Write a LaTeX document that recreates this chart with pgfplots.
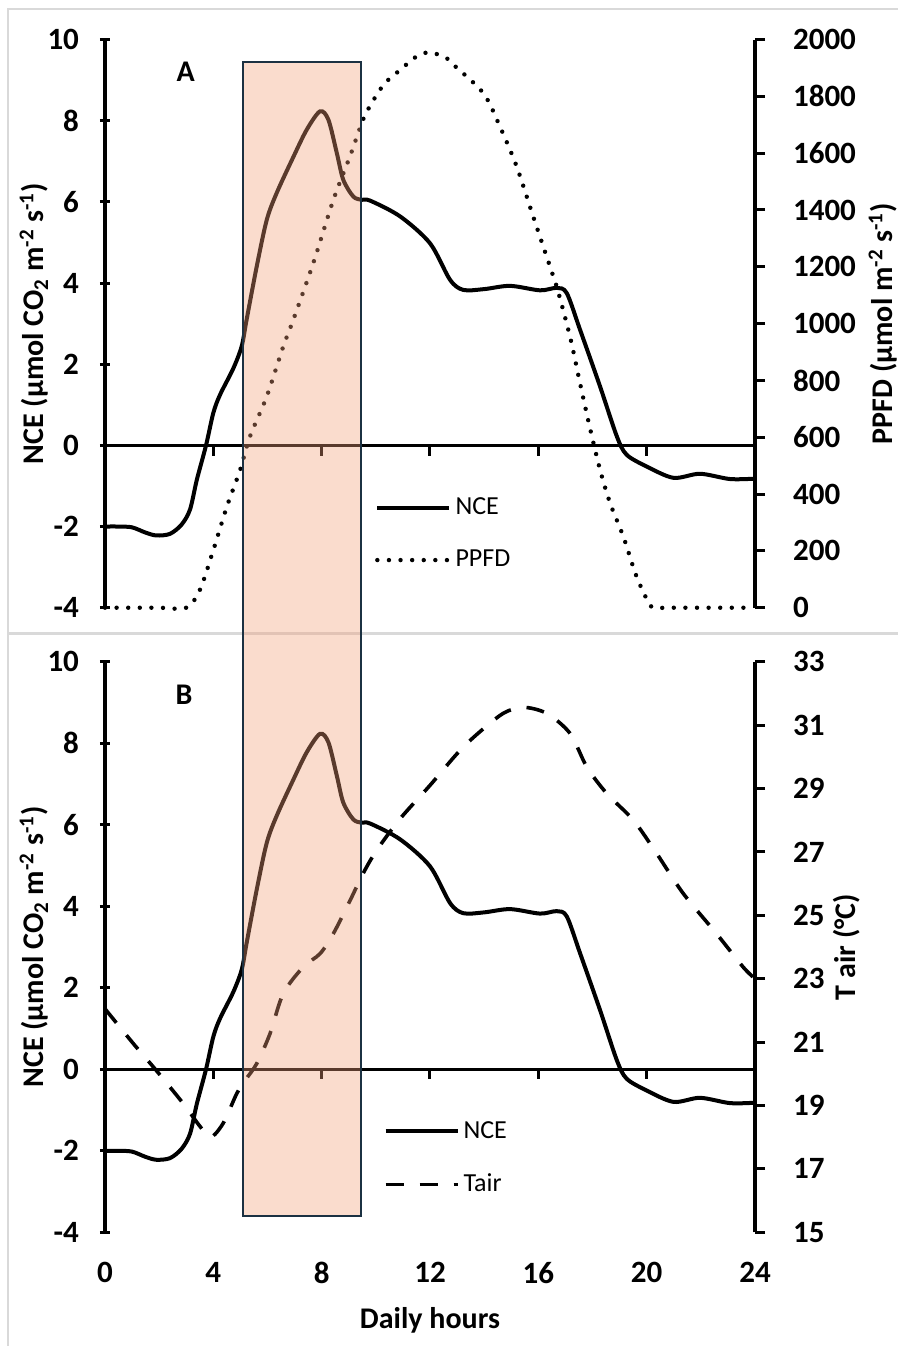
\documentclass[border=0pt]{standalone}
\usepackage{pgfplots}
\pgfplotsset{compat=1.18}
\usepackage{pgfplotstable}
\usepackage{fontspec}
\setmainfont{Carlito}
\definecolor{boxfill}{RGB}{242,160,120}
\definecolor{boxedge}{RGB}{27,49,66}
\definecolor{framegray}{RGB}{217,217,217}

\pgfplotstableread{
h v
0 -2.0
0.5 -2.0
1.0 -2.02
1.5 -2.15
1.9 -2.22
2.4 -2.18
2.83 -1.95
3.14 -1.58
3.39 -0.85
3.73 0.0
4.0 0.8
4.25 1.25
4.74 1.9
5.05 2.45
5.23 3.1
5.6 4.4
5.97 5.55
6.34 6.22
6.95 7.1
7.45 7.78
7.94 8.23
8.25 8.02
8.56 7.2
8.8 6.54
9.17 6.13
9.48 6.05
9.79 6.03
10.9 5.64
12.0 4.98
12.74 4.08
13.23 3.83
14.0 3.85
14.96 3.93
16.06 3.82
16.68 3.88
17.05 3.75
17.54 2.85
18.28 1.45
18.9 0.22
19.26 -0.23
20.0 -0.52
20.99 -0.8
21.97 -0.7
23.08 -0.83
24 -0.82
}\nce

\pgfplotstableread{
h v
0 0
1 0
2 0
3.0 0
3.5 62
4.0 203
4.5 356
4.99 485
5.35 602
5.97 743
6.58 919
6.95 1013
7.69 1213
8.43 1435
9.05 1590
9.42 1690
9.66 1745
10.28 1840
10.9 1893
11.5 1940
12.0 1955
12.62 1934
12.87 1911
13.97 1811
14.58 1694
15.2 1553
15.81 1377
16.43 1201
16.68 1130
17.17 954
17.54 790
17.9 635
18.28 485
18.65 368
19.14 250
19.63 109
20.12 10
20.37 0
21 0
22 0
23 0
24 0
}\ppfd

\pgfplotstableread{
h v
0 22.05
1.05 20.95
1.9 20.1
2.9 19.05
3.5 18.35
3.9 18.0
4.37 18.45
4.86 19.37
5.17 19.79
5.6 20.32
6.09 21.26
6.58 22.53
7.32 23.37
7.94 23.79
8.43 24.42
9.05 25.47
9.53 26.32
10.03 27.05
10.9 28.05
12.0 29.1
13.0 30.1
13.72 30.7
14.7 31.37
15.45 31.56
16.31 31.37
17.17 30.74
17.79 29.68
18.53 28.84
19.51 28.0
20.37 26.95
21.35 25.69
22.58 24.42
23.56 23.37
24 23.0
}\tair

\newcommand{\lblfont}{\bfseries\fontsize{15}{18}\selectfont}
\newcommand{\tickfont}{\bfseries\fontsize{15.5}{18}\selectfont}

\pgfplotsset{
  common/.style={
    scale only axis, width=325pt, enlargelimits=false, clip=false,
    xmin=0, xmax=24, xtick={0,4,...,24},
    tick align=outside, major tick length=5pt,
    axis line style={line width=1.6pt},
    every tick/.style={line width=1.5pt, black},
    /pgf/number format/assume math mode=true,
    /pgf/number format/1000 sep={},
    tick label style={font=\tickfont},
    legend style={draw=none, fill=none, inner sep=0pt,
      font=\fontsize{13}{15}\selectfont, row sep=12.3pt,
      nodes={inner sep=2pt}},
    legend cell align=left,
  },
  leftaxis/.style={common,
    axis x line*=bottom, axis y line=left,
    x axis line style={draw=none}, y axis line style={-},
    every outer y axis line/.append style={-},
    xtick align=inside, xtick style={draw=none},
    ymin=-4, ymax=10, ytick={-4,-2,...,10},
    yticklabel style={xshift=-7pt},
    ylabel={NCE (µmol CO\textsubscript{2} m\textsuperscript{-2} s\textsuperscript{-1})},
    every axis y label/.style={at={(axis description cs:-0.109,0.5)}, rotate=90, anchor=center, font=\lblfont},
  },
  rightaxis/.style={common,
    axis x line=none, axis y line*=right,
    x axis line style={-}, y axis line style={-},
    every outer y axis line/.append style={-},
    yticklabel style={xshift=10.5pt},
  },
  ncestyle/.style={black, line width=2pt},
  ppfdstyle/.style={black, line width=2.2pt, line cap=round, dash pattern=on 0pt off 5.8pt},
  tairstyle/.style={black, line width=1.8pt, dash pattern=on 9pt off 8pt},
  legend image code/.code={\draw[#1] (0pt,0pt) -- (36pt,0pt);},
}

\newcommand{\zeroline}{%
  \draw[black, line width=1.6pt] (axis cs:0,0) -- (axis cs:24,0);
  \pgfplotsinvokeforeach{4,8,12,16,20}{\draw[black, line width=1.5pt] (axis cs:##1,0) -- (axis cs:##1,-0.25);}%
}

\begin{document}
\begin{tikzpicture}
\path[use as bounding box] (0,0) rectangle (449pt,-673pt);
% frame
\draw[framegray, line width=1.2pt] (4pt,-673pt) -- (4pt,-4.5pt) -- (449pt,-4.5pt);
\draw[framegray, line width=1.2pt] (4pt,-316.7pt) -- (449pt,-316.7pt);

% ---------------- Panel A ----------------
\begin{axis}[leftaxis, at={(52.5pt,-303.85pt)}, anchor=south west, height=284.1pt,
  xticklabels={}]
  \zeroline
  \addplot[ncestyle, smooth] table[x=h, y=v] {\nce};
  \coordinate (boxTL) at (axis cs:5.11,9.45);
\end{axis}
\begin{axis}[rightaxis, at={(52.5pt,-303.85pt)}, anchor=south west, height=284.1pt,
  ymin=0, ymax=2000, ytick={0,200,...,2000},
  ylabel={PPFD (µmol m\textsuperscript{-2} s\textsuperscript{-1})},
  every axis y label/.style={at={(axis description cs:1.197,0.5)}, rotate=90, anchor=center, font=\lblfont},
  legend style={at={(0.415,0.13)}, anchor=west}]
  \addlegendimage{ncestyle}\addlegendentry{NCE}
  \addplot[ppfdstyle, smooth] table[x=h, y=v] {\ppfd};
  \addlegendentry{PPFD}
\end{axis}

% ---------------- Panel B ----------------
\begin{axis}[leftaxis, at={(52.5pt,-616.15pt)}, anchor=south west, height=285.3pt,
  xticklabel style={yshift=-11.5pt},
  xlabel={Daily hours},
  every axis x label/.style={at={(axis description cs:0.5,-0.155)}, anchor=center, font=\lblfont}]
  \zeroline
  \addplot[ncestyle, smooth] table[x=h, y=v] {\nce};
  \coordinate (boxBR) at (axis cs:9.44,-3.59);
\end{axis}
\begin{axis}[rightaxis, at={(52.5pt,-616.15pt)}, anchor=south west, height=285.3pt,
  ymin=15, ymax=33, ytick={15,17,...,33},
  ylabel={T air (°C)},
  every axis y label/.style={at={(axis description cs:1.1415,0.5)}, rotate=90, anchor=center, font=\lblfont},
  legend style={at={(0.428,0.13)}, anchor=west}]
  \addlegendimage{ncestyle}\addlegendentry{NCE}
  \addplot[tairstyle, smooth] table[x=h, y=v] {\tair};
  \addlegendentry{Tair}
\end{axis}

% highlight box
\draw[boxedge, line width=1pt, fill=boxfill, fill opacity=0.37] (boxTL) rectangle (boxBR);

\node[font=\bfseries\fontsize{15}{18}\selectfont] at (92.85pt,-35.85pt) {A};
\node[font=\bfseries\fontsize{15}{18}\selectfont] at (92pt,-347.5pt) {B};
\end{tikzpicture}
\end{document}
